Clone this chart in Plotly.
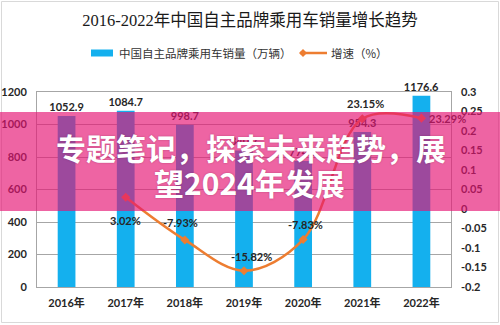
import plotly.graph_objects as go

# ---------------- data ----------------
years = ["2016年", "2017年", "2018年", "2019年", "2020年", "2021年", "2022年"]
sales = [1052.9, 1084.7, 998.7, 840.7, 774.9, 954.3, 1176.6]          # 万辆
growth_years = ["2017年", "2018年", "2019年", "2020年", "2021年", "2022年"]
growth = [0.0302, -0.0793, -0.1582, -0.0783, 0.2315, 0.2329]
left_ticks = [0, 200, 400, 600, 800, 1000, 1200]
right_ticks = [-0.2, -0.15, -0.1, -0.05, 0, 0.05, 0.1, 0.15, 0.2, 0.25, 0.3]
right_tick_text = ["-0.2", "-0.15", "-0.1", "-0.05", "0", "0.05", "0.1", "0.15", "0.2", "0.25", "0.3"]

title_text = "2016-2022年中国自主品牌乘用车销量增长趋势"
bar_name = "中国自主品牌乘用车销量（万辆）"
line_name = "增速（%）"
overlay_line1 = "专题笔记，探索未来趋势，展"
overlay_line2 = "望2024年发展"

# label offsets for the growth labels (pixels: xshift, yshift)
growth_label_shift = [(0, -23), (-4, 17), (7, 14), (2, 15), (3, 15), (26, 0)]

# ---------------- layout geometry (pixels) ----------------
W, H = 500, 325
L, R, T, B = 37, 49, 92, 38
PW, PH = W - L - R, H - T - B


def px_x(px):
    return (px - L) / PW


def px_y(py):
    return (H - B - py) / PH


NUM_FONT = "Lato, 'Noto Sans CJK SC', sans-serif"
CJK_FONT = "'Noto Sans CJK SC', sans-serif"
TXT_COLOR = "#262626"
BLUE = "#14B0EE"
ORANGE = "#ED7D31"

fig = go.Figure()

fig.add_trace(go.Bar(
    x=years, y=sales, name=bar_name,
    marker=dict(color=BLUE, line=dict(width=0)),
    width=0.3,
    text=[f"{v:.1f}" for v in sales],
    textposition="outside",
    constraintext="none",
    textfont=dict(family=NUM_FONT, size=11, color=TXT_COLOR, weight="bold"),
    cliponaxis=False,
    yaxis="y",
    showlegend=False,
))

fig.add_trace(go.Scatter(
    x=growth_years, y=growth, name=line_name,
    mode="lines+markers",
    line=dict(color=ORANGE, width=2.5, shape="spline", smoothing=1.0),
    marker=dict(symbol="diamond", size=7, color=ORANGE),
    cliponaxis=False,
    yaxis="y2",
    showlegend=False,
))

annotations = []
# growth data labels
for yr, g, (dx, dy) in zip(growth_years, growth, growth_label_shift):
    annotations.append(dict(
        text=f"{g * 100:.2f}%", xref="x", yref="y2", x=yr, y=g,
        xshift=dx, yshift=dy, showarrow=False, xanchor="center", yanchor="middle",
        font=dict(family=NUM_FONT, size=11, color=TXT_COLOR, weight="bold")))

# custom legend texts
annotations.append(dict(text=bar_name, xref="paper", yref="paper", x=px_x(117), y=px_y(53),
                        xanchor="left", yanchor="middle", showarrow=False,
                        font=dict(family=CJK_FONT, size=11.5, color="#333333")))
annotations.append(dict(text=line_name, xref="paper", yref="paper", x=px_x(329), y=px_y(53),
                        xanchor="left", yanchor="middle", showarrow=False,
                        font=dict(family=CJK_FONT, size=11.5, color="#333333")))

# pink overlay band (drawn as annotation box so it covers labels)
annotations.append(dict(text=" ", xref="paper", yref="paper", x=px_x(250), y=px_y(161.5),
                        xanchor="center", yanchor="middle", showarrow=False,
                        width=506, height=99, borderpad=0, borderwidth=0,
                        bgcolor="rgba(229,20,115,0.66)", font=dict(size=10)))
annotations.append(dict(text=overlay_line1, xref="paper", yref="paper", x=px_x(251), y=px_y(147),
                        xanchor="center", yanchor="middle", showarrow=False,
                        font=dict(family=CJK_FONT, size=30, color="white", weight="bold",
                                  shadow="0px 0px 2px rgba(90,0,40,0.35)")))
annotations.append(dict(text=overlay_line2, xref="paper", yref="paper", x=px_x(250), y=px_y(182),
                        xanchor="center", yanchor="middle", showarrow=False,
                        font=dict(family=CJK_FONT, size=30, color="white", weight="bold",
                                  shadow="0px 0px 2px rgba(90,0,40,0.35)")))

# diamond marker path for legend
dcx, dcy, dr = 303, 53, 4
diamond_path = (f"M{px_x(dcx - dr)},{px_y(dcy)} L{px_x(dcx)},{px_y(dcy - dr)} "
                f"L{px_x(dcx + dr)},{px_y(dcy)} L{px_x(dcx)},{px_y(dcy + dr)} Z")

shapes = [
    # chart-area border
    dict(type="rect", xref="paper", yref="paper",
         x0=px_x(1.5), x1=px_x(498.5), y0=px_y(322.5), y1=px_y(1.5),
         line=dict(color="#D9D9D9", width=1), fillcolor="rgba(0,0,0,0)", layer="below"),
    # legend swatch (bars)
    dict(type="rect", xref="paper", yref="paper",
         x0=px_x(91), x1=px_x(113), y0=px_y(56.5), y1=px_y(49.5),
         line=dict(width=0), fillcolor=BLUE, layer="above"),
    # legend line
    dict(type="line", xref="paper", yref="paper",
         x0=px_x(300), x1=px_x(327), y0=px_y(53), y1=px_y(53),
         line=dict(color=ORANGE, width=2.5), layer="above"),
    dict(type="path", xref="paper", yref="paper", path=diamond_path,
         line=dict(width=0), fillcolor=ORANGE, layer="above"),
]

fig.update_layout(
    width=W, height=H,
    margin=dict(l=L, r=R, t=T, b=B, pad=0, autoexpand=False),
    paper_bgcolor="white", plot_bgcolor="white",
    title=dict(text=title_text, x=250 / W, xanchor="center", y=1 - 20 / H, yanchor="middle",
               xref="container", yref="container",
               font=dict(family="'Liberation Serif', 'Noto Sans CJK SC', serif", size=16.5, color="#1a1a1a")),
    showlegend=False,
    xaxis=dict(range=[-0.5, len(years) - 0.5], autorange=False,
               showgrid=False, showline=True, linecolor="#A6A6A6", linewidth=1, mirror=True,
               ticks="", tickfont=dict(family=NUM_FONT, size=11, color=TXT_COLOR, weight="bold"),
               ticklabelstandoff=6),
    yaxis=dict(range=[0, 1200], tickvals=left_ticks, showgrid=True, gridcolor="#A6A6A6", gridwidth=1,
               showline=True, linecolor="#A6A6A6", linewidth=1, mirror=True, zeroline=False,
               ticks="", tickfont=dict(family=NUM_FONT, size=11, color=TXT_COLOR, weight="bold"),
               ticklabelstandoff=7),
    yaxis2=dict(range=[-0.2, 0.3], tickvals=right_ticks, ticktext=right_tick_text,
                overlaying="y", side="right", showgrid=False, zeroline=False, showline=False,
                ticks="", tickfont=dict(family=NUM_FONT, size=11, color=TXT_COLOR, weight="bold"),
                ticklabelstandoff=9),
    shapes=shapes,
    annotations=annotations,
    bargap=0.7,
)

fig.write_html("out.html")
